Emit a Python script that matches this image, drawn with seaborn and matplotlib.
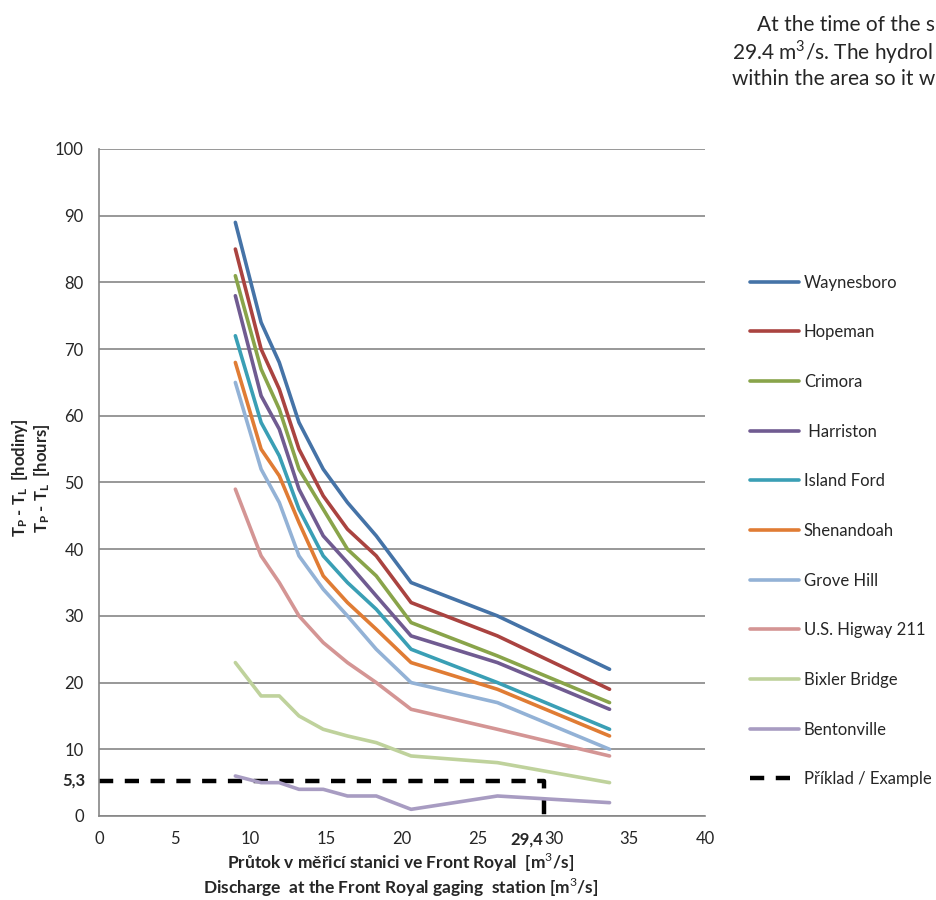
import numpy as np
import pandas as pd
import matplotlib
matplotlib.use('Agg')
import matplotlib.pyplot as plt
import seaborn as sns

# data
discharge = [9.0, 10.7, 11.9, 13.2, 14.8, 16.4, 18.3, 20.6, 26.3, 33.7]

stations = ['Waynesboro', 'Hopeman', 'Crimora', ' Harriston', 'Island Ford',
            'Shenandoah', 'Grove Hill', 'U.S. Higway 211', 'Bixler Bridge', 'Bentonville']

waynesboro  = [89, 74, 68, 59, 52, 47, 42, 35, 30, 22]
hopeman     = [85, 70, 64, 55, 48, 43, 39, 32, 27, 19]
crimora     = [81, 67, 61, 52, 46, 40, 36, 29, 24, 17]
harriston   = [78, 63, 58, 49, 42, 38, 33, 27, 23, 16]
island_ford = [72, 59, 54, 46, 39, 35, 31, 25, 20, 13]
shenandoah  = [68, 55, 51, 44, 36, 32, 28, 23, 19, 12]
grove_hill  = [65, 52, 47, 39, 34, 30, 25, 20, 17, 10]
us_211      = [49, 39, 35, 30, 26, 23, 20, 16, 13, 9]
bixler      = [23, 18, 18, 15, 13, 12, 11, 9, 8, 5]
bentonville = [6, 5, 5, 4, 4, 3, 3, 1, 3, 2]

colors = ['#4573A7', '#AA4340', '#89A44A', '#705B91', '#3A9FB5',
          '#E07C34', '#93B2D6', '#D49594', '#BFD29C', '#A89CC2']

example_x = 29.4
example_y = 5.3

series = [waynesboro, hopeman, crimora, harriston, island_ford,
          shenandoah, grove_hill, us_211, bixler, bentonville]
rows = []
for name, vals in zip(stations, series):
    for x, y in zip(discharge, vals):
        rows.append({'Q': x, 'T': y, 'station': name})
df = pd.DataFrame(rows)

sns.set_style('white')
plt.rcParams['font.family'] = ['Lato', 'DejaVu Sans']
plt.rcParams['mathtext.fontset'] = 'custom'
plt.rcParams['mathtext.rm'] = 'Lato'
plt.rcParams['mathtext.bf'] = 'Lato:bold'

fig = plt.figure(figsize=(9.36, 9.0), dpi=100)
ax = fig.add_axes([99 / 936, 84 / 900, 606 / 936, 667 / 900])

sns.lineplot(data=df, x='Q', y='T', hue='station', hue_order=stations,
             palette=dict(zip(stations, colors)), linewidth=2.6,
             legend=False, ax=ax, sort=False)
for ln in ax.get_lines():
    ln.set_solid_capstyle('round')

# example line (5,3 h at 29,4 m3/s)
ex, = ax.plot([0, example_x, example_x], [example_y, example_y, 0],
              color='black', linewidth=3.2, dashes=(3.2, 2.6), zorder=1)

ax.set_xlim(0, 40)
ax.set_ylim(0, 100)
ax.set_xticks(range(0, 41, 5))
ax.set_yticks(range(0, 101, 10))
ax.yaxis.grid(True, color='#868686', linewidth=1.2)
ax.xaxis.grid(False)
ax.set_axisbelow(True)
for s in ['top', 'right']:
    ax.spines[s].set_visible(False)
for s in ['left', 'bottom']:
    ax.spines[s].set_color('#868686')
    ax.spines[s].set_linewidth(1.2)
ax.tick_params(axis='both', direction='out', length=5, width=1.2,
               color='#868686', labelsize=12, pad=6)

ax.text(-0.9, example_y, '5,3', ha='right', va='center', fontsize=12,
        fontweight='bold')
ax.annotate('29,4', xy=(example_x - 0.05, 0), xycoords='data',
            xytext=(0, -11), textcoords='offset points',
            ha='right', va='top', fontsize=12, fontweight='bold')

ax.set_xlabel('')
ax.set_ylabel('')
fig.text(401 / 936, 1 - 862 / 900, 'Průtok v měřicí stanici ve Front Royal  [m$^3$/s]',
         ha='center', va='center', fontsize=12.5, fontweight='bold')
fig.text(401 / 936, 1 - 887 / 900, 'Discharge  at the Front Royal gaging  station [m$^3$/s]',
         ha='center', va='center', fontsize=12.5, fontweight='bold')
fig.text(20 / 936, 1 - 478 / 900, r'$\mathbf{T_P}$ - $\mathbf{T_L}$  [hodiny]',
         ha='center', va='center', rotation=90, fontsize=12, fontweight='bold')
fig.text(42 / 936, 1 - 478 / 900, r'$\mathbf{T_P}$ - $\mathbf{T_L}$  [hours]',
         ha='center', va='center', rotation=90, fontsize=12, fontweight='bold')

handles = ax.get_lines()[:len(stations)] + [ex]
labels = stations + ['Příklad / Example']
leg = fig.legend(handles, labels, loc='upper left',
                 bbox_to_anchor=(743 / 936, 1 - 268 / 900), frameon=False,
                 fontsize=12, handlelength=2.95, handletextpad=0.3,
                 labelspacing=2.02, borderaxespad=0)

# paragraph of the page text, cut at the right edge as in the source
fig.text(757 / 936, 1 - 25 / 900, 'At the time of the s',
         ha='left', va='center', fontsize=15)
fig.text(732 / 936, 1 - 52 / 900, '29.4 m$^3$/s. The hydrol',
         ha='left', va='center', fontsize=15)
fig.text(732 / 936, 1 - 79 / 900, 'within the area so it w',
         ha='left', va='center', fontsize=15)

fig.savefig('out.png', dpi=100)
